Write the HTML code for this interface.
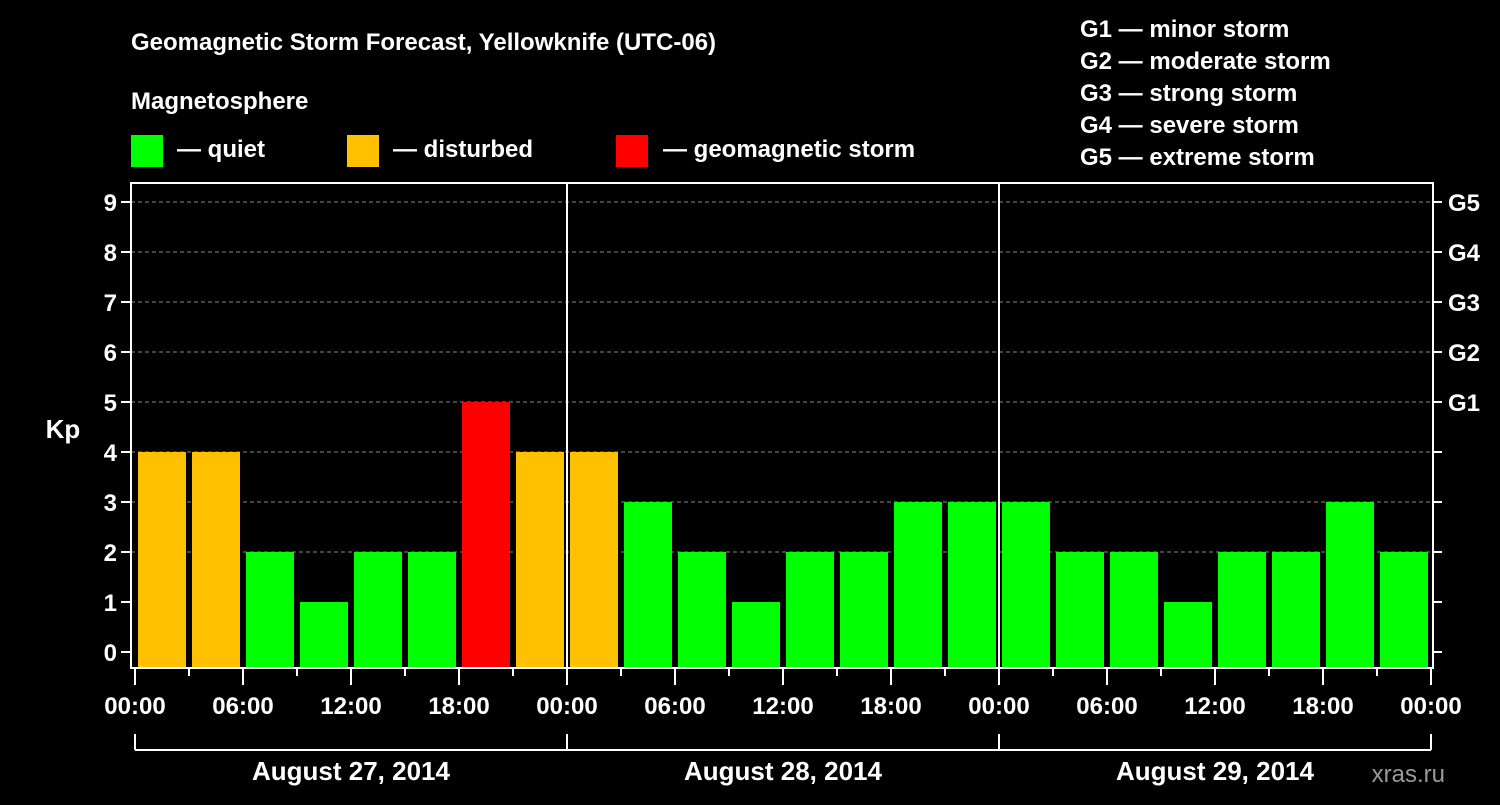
<!DOCTYPE html>
<html><head><meta charset="utf-8"><style>
body{margin:0;background:#000;width:1500px;height:800px;overflow:hidden}
svg text{font-family:"Liberation Sans",sans-serif;font-weight:bold;fill:#fff}
</style></head><body>
<svg id="c" width="1500" height="800">
<text x="131" y="50" font-size="24">Geomagnetic Storm Forecast, Yellowknife (UTC-06)</text>
<text x="131" y="109" font-size="24">Magnetosphere</text>
<rect x="131" y="135" width="32" height="32" fill="#00ff00"/>
<text x="177" y="157" font-size="24">— quiet</text>
<rect x="347" y="135" width="32" height="32" fill="#ffc000"/>
<text x="393" y="157" font-size="24">— disturbed</text>
<rect x="616" y="135" width="32" height="32" fill="#ff0000"/>
<text x="663" y="157" font-size="24">— geomagnetic storm</text>
<g font-size="24">
<text x="1080" y="37">G1 — minor storm</text>
<text x="1080" y="69">G2 — moderate storm</text>
<text x="1080" y="101">G3 — strong storm</text>
<text x="1080" y="133">G4 — severe storm</text>
<text x="1080" y="165">G5 — extreme storm</text>
</g>
<text x="63" y="438" font-size="26" text-anchor="middle">Kp</text>
<text x="1445" y="782" font-size="24" text-anchor="end" fill="#999" style="fill:#9a9a9a;font-weight:normal">xras.ru</text>
<g id="g"></g>
</svg>
<script>
const kpValues=[4,4,2,1,2,2,5,4, 4,3,2,1,2,2,3,3, 3,2,2,1,2,2,3,2];
const yTicks=[0,1,2,3,4,5,6,7,8,9];
const gLabels=["G1","G2","G3","G4","G5"];
const timeLabels=["00:00","06:00","12:00","18:00"];
const dayLabels=["August 27, 2014","August 28, 2014","August 29, 2014"];
const NS="http://www.w3.org/2000/svg";
const g=document.getElementById('g');
const L=131,R=1433,T=183,B=668,X0=135,SLOT=54;
const y=v=>652-50*v;
const x=i=>X0+SLOT*i;
function mk(t,a){const e=document.createElementNS(NS,t);for(const k in a)e.setAttribute(k,a[k]);g.appendChild(e);return e;}
yTicks.forEach(v=>{
  if(v>=2){const l=mk('line',{x1:L,x2:R,y1:y(v),y2:y(v),stroke:'#888','stroke-dasharray':'4,3','stroke-width':1});
  
  }
  mk('line',{x1:L-10,x2:L,y1:y(v),y2:y(v),stroke:'#fff','stroke-width':2});
  mk('line',{x1:R,x2:R+9,y1:y(v),y2:y(v),stroke:'#fff','stroke-width':2});
  const t=mk('text',{x:L-14,y:y(v)+9,'font-size':24,'text-anchor':'end'});t.textContent=v;
  
  
});
gLabels.forEach((s,i)=>{const t=mk('text',{x:1448,y:y(5+i)+9,'font-size':24});t.textContent=s;
  
  });
kpValues.forEach((v,i)=>{
  const c=v>=5?'#ff0000':v>=4?'#ffc000':'#00ff00';
  const r=mk('rect',{x:x(i)+3,y:y(v),width:48,height:B-y(v),fill:c});
  
  
});
for(let i=0;i<=kpValues.length;i++){
  mk('line',{x1:x(i),x2:x(i),y1:B,y2:i%2==0?685:676,stroke:'#fff','stroke-width':2});
  if(i%2==0){const t=mk('text',{x:x(i),y:714,'font-size':24,'text-anchor':'middle'});t.textContent=timeLabels[(i/2)%4];
  
  }
}
dayLabels.forEach((d,k)=>{
  const a=x(8*k),b=x(8*k+8);
  mk('line',{x1:a,x2:b,y1:750,y2:750,stroke:'#fff','stroke-width':2});
  mk('line',{x1:a,x2:a,y1:734,y2:750,stroke:'#fff','stroke-width':2});
  mk('line',{x1:b,x2:b,y1:734,y2:750,stroke:'#fff','stroke-width':2});
  const t=mk('text',{x:(a+b)/2,y:780,'font-size':26,'text-anchor':'middle'});t.textContent=d;
  
  
  if(k>0){mk('line',{x1:a,x2:a,y1:T,y2:B,stroke:'#fff','stroke-width':2});}
});
const f=mk('rect',{x:L,y:T,width:R-L,height:B-T,fill:'none',stroke:'#fff','stroke-width':2});


</script>
</body></html>
